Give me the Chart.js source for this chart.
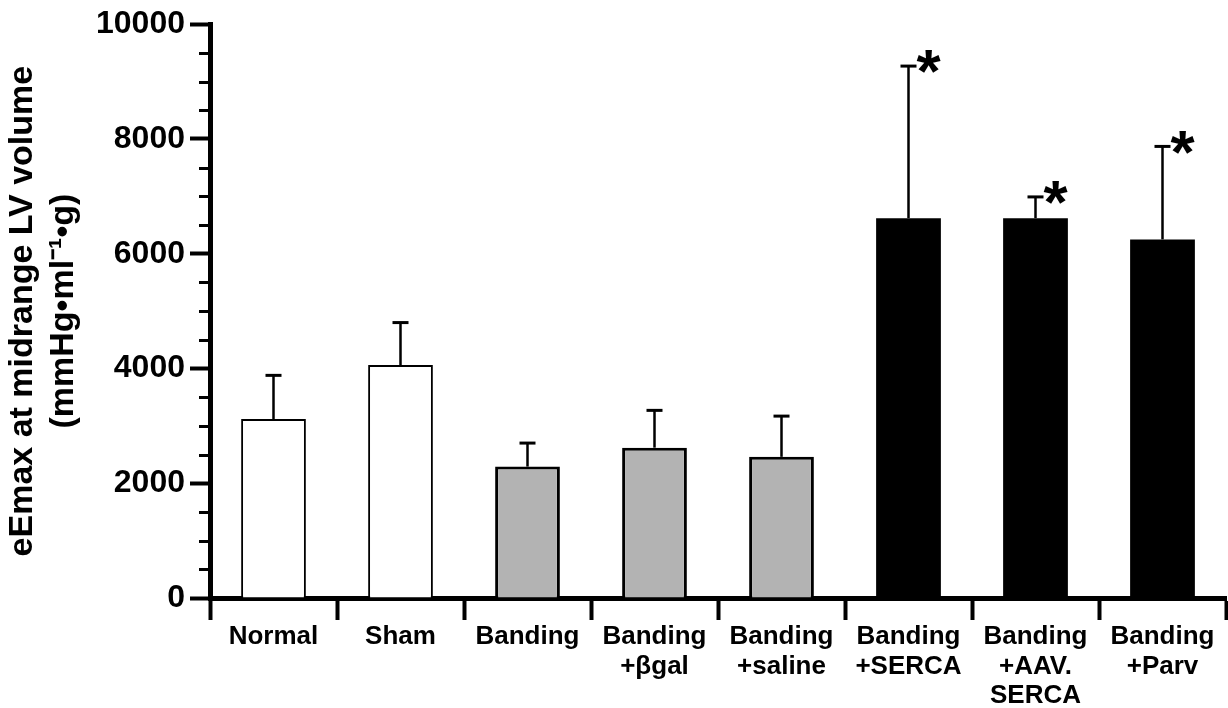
<!DOCTYPE html>
<html>
<head>
<meta charset="utf-8">
<script src="https://cdn.jsdelivr.net/npm/chart.js@4/dist/chart.umd.min.js"></script>
<style>
  html, body { margin: 0; padding: 0; background: #fff; }
  #wrap { width: 1228px; height: 708px; position: relative; }
</style>
</head>
<body>
<div id="wrap"><canvas id="emaxChart"></canvas></div>
<script>
// group names (multi-line tick labels)
var categories = [
    ['Normal'], ['Sham'], ['Banding'], ['Banding', '+\u03b2gal'], ['Banding', '+saline'],
    ['Banding', '+SERCA'], ['Banding', '+AAV.', 'SERCA'], ['Banding', '+Parv']
];
// mean eEmax and upper error (SD)
var means = [3120, 4060, 2290, 2620, 2460, 6620, 6620, 6250];
var errors = [760, 740, 410, 650, 710, 2650, 370, 1620];
// groups marked with an asterisk
var significant = [false, false, false, false, false, true, true, true];
var groupType = ['control', 'control', 'banding', 'banding', 'banding', 'treated', 'treated', 'treated'];
var yTicks = [0, 2000, 4000, 6000, 8000, 10000];

var fillFor = { control: '#ffffff', banding: '#b3b3b3', treated: '#000000' };
var borderFor = { control: 2, banding: 3, treated: 0 };

var FONT = "'Liberation Sans', Arial, Helvetica, sans-serif";

// error bars, asterisks and minor y ticks
var extrasPlugin = {
    id: 'extras',
    afterDatasetsDraw: function (chart) {
        var ctx = chart.ctx;
        var yScale = chart.scales.y;
        var meta = chart.getDatasetMeta(0);
        ctx.save();
        ctx.strokeStyle = '#000';
        ctx.fillStyle = '#000';

        // minor ticks every 500
        ctx.lineWidth = 3;
        for (var v = 500; v < 10000; v += 500) {
            if (v % 2000 === 0) continue;
            var yy = Math.round(yScale.getPixelForValue(v)) + 0.5;
            ctx.beginPath();
            ctx.moveTo(chart.chartArea.left - 11, yy);
            ctx.lineTo(chart.chartArea.left, yy);
            ctx.stroke();
        }

        meta.data.forEach(function (bar, i) {
            var x = bar.x;
            var yTop = yScale.getPixelForValue(means[i]);
            var yErr = yScale.getPixelForValue(means[i] + errors[i]);
            // stem
            ctx.lineWidth = 2.5;
            ctx.beginPath();
            ctx.moveTo(x, yTop);
            ctx.lineTo(x, yErr);
            ctx.stroke();
            // cap
            ctx.lineWidth = 3;
            ctx.beginPath();
            ctx.moveTo(x - 8, yErr);
            ctx.lineTo(x + 8, yErr);
            ctx.stroke();

            if (significant[i]) {
                ctx.font = 'bold 62px ' + FONT;
                ctx.textAlign = 'left';
                ctx.textBaseline = 'top';
                ctx.fillText('*', x + 8, yErr - 22);
            }
        });
        ctx.restore();
    }
};

var ctx = document.getElementById('emaxChart').getContext('2d');

var emaxChart = new Chart(ctx, {
    type: 'bar',
    data: {
        labels: categories,
        datasets: [{
            data: means,
            backgroundColor: groupType.map(function (t) { return fillFor[t]; }),
            borderColor: '#000',
            borderWidth: groupType.map(function (t) { return borderFor[t]; }),
            borderSkipped: 'bottom',
            barPercentage: 0.51,
            categoryPercentage: 1.0
        }]
    },
    options: {
        responsive: true,
        maintainAspectRatio: false,
        animation: false,
        layout: { padding: { top: 24, right: 2, left: 0, bottom: 0 } },
        plugins: {
            legend: { display: false },
            tooltip: { enabled: false }
        },
        scales: {
            x: {
                offset: true,
                grid: {
                    offset: true,
                    drawOnChartArea: false,
                    tickLength: 22,
                    tickWidth: 4,
                    tickColor: '#000'
                },
                border: { display: true, color: '#000', width: 5 },
                ticks: {
                    color: '#000',
                    maxRotation: 0,
                    autoSkip: false,
                    padding: 2,
                    font: { family: FONT, size: 26, weight: 'bold', lineHeight: 1.14 }
                },
                afterFit: function (scale) { scale.height = 110; }
            },
            y: {
                min: 0,
                max: 10000,
                afterBuildTicks: function (scale) {
                    scale.ticks = yTicks.map(function (v) { return { value: v }; });
                },
                grid: {
                    drawOnChartArea: false,
                    tickLength: 20,
                    tickWidth: 4,
                    tickColor: '#000'
                },
                border: { display: true, color: '#000', width: 5 },
                ticks: {
                    color: '#000',
                    padding: 5,
                    font: { family: FONT, size: 32, weight: 'bold' },
                    callback: function (value) { return String(value); }
                },
                title: {
                    display: true,
                    text: ['eEmax at midrange LV volume', '(mmHg\u2022ml\u207b\u00b9\u2022g)'],
                    color: '#000',
                    padding: { top: 2, bottom: 0 },
                    font: { family: FONT, size: 34, weight: 'bold', lineHeight: 1.2 }
                },
                afterFit: function (scale) { scale.width = 210; }
            }
        }
    },
    plugins: [extrasPlugin]
});
</script>
</body>
</html>
